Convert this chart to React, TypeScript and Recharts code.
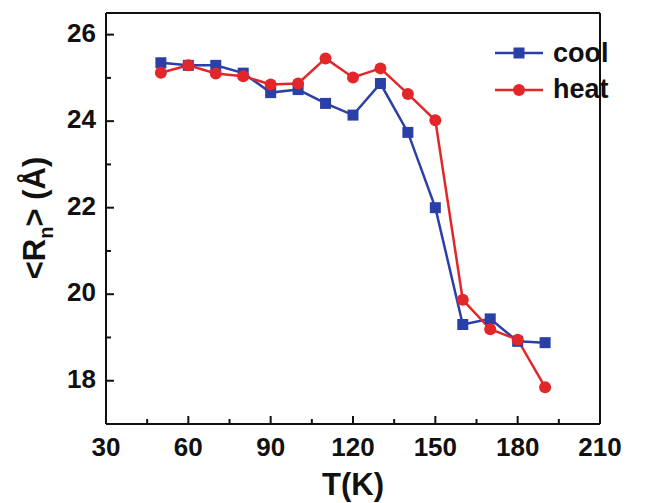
import { LineChart, Line, XAxis, YAxis, ReferenceLine, Legend } from "recharts"

// temperatures (K) and mean radius <R_n> (Å)
const temps = [50, 60, 70, 80, 90, 100, 110, 120, 130, 140, 150, 160, 170, 180, 190]
const cool = [25.35, 25.29, 25.29, 25.11, 24.66, 24.73, 24.41, 24.14, 24.87, 23.74, 22.0, 19.3, 19.43, 18.91, 18.88]
const heat = [25.12, 25.29, 25.1, 25.04, 24.85, 24.87, 25.45, 25.01, 25.22, 24.63, 24.02, 19.87, 19.19, 18.95, 17.85]

const xTicks = [30, 45, 60, 75, 90, 105, 120, 135, 150, 165, 180, 195, 210]
const yTicks = [17, 18, 19, 20, 21, 22, 23, 24, 25, 26]

const BLUE = "#2b40a6"
const RED = "#e2262a"
const FONT = "'Liberation Sans', Arial, sans-serif"

const data = temps.map((t, i) => ({ T: t, cool: cool[i], heat: heat[i] }))

const XTick = (props: any) => {
  const { x, y, payload } = props
  const major = payload.value % 30 === 0
  return (
    <g>
      <line x1={x} x2={x} y1={y} y2={y - (major ? 8 : 5)} stroke="#111" strokeWidth={2} />
      {major && (
        <text x={x} y={y + 32} textAnchor="middle" fontFamily={FONT} fontWeight="bold" fontSize={26} fill="#111">
          {payload.value}
        </text>
      )}
    </g>
  )
}

const YTick = (props: any) => {
  const { x, y, payload } = props
  const major = payload.value % 2 === 0
  return (
    <g>
      <line x1={x} x2={x + (major ? 8 : 5)} y1={y} y2={y} stroke="#111" strokeWidth={2} />
      {major && (
        <text x={x - 10} y={y + 7} textAnchor="end" fontFamily={FONT} fontWeight="bold" fontSize={26} fill="#111">
          {payload.value}
        </text>
      )}
    </g>
  )
}

const Square = (props: any) => {
  const { cx, cy } = props
  if (cx == null || cy == null) return <g />
  return <rect x={cx - 5.5} y={cy - 5.5} width={11} height={11} fill={BLUE} />
}

const Dot = (props: any) => {
  const { cx, cy } = props
  if (cx == null || cy == null) return <g />
  return <circle cx={cx} cy={cy} r={6} fill={RED} />
}

const LegendBox = () => (
  <svg width={150} height={80}>
    <line x1={5} x2={53} y1={23} y2={23} stroke={BLUE} strokeWidth={2.5} />
    <rect x={23.5} y={17.5} width={11} height={11} fill={BLUE} />
    <text x={63} y={32} fontFamily={FONT} fontWeight="bold" fontSize={27} fill="#111">cool</text>
    <line x1={5} x2={53} y1={60} y2={60} stroke={RED} strokeWidth={2.5} />
    <circle cx={29} cy={60} r={6} fill={RED} />
    <text x={63} y={68} fontFamily={FONT} fontWeight="bold" fontSize={27} fill="#111">heat</text>
  </svg>
)

export default function App() {
  return (
    <div style={{ position: "absolute", left: 0, top: 0, width: 646, height: 503, background: "#fff" }}>
      <LineChart width={646} height={503} data={data} margin={{ top: 13, right: 46, bottom: 0, left: 0 }}>
        <XAxis
          dataKey="T"
          type="number"
          domain={[30, 210]}
          ticks={xTicks}
          interval={0}
          height={79}
          tickSize={0}
          tickMargin={0}
          tickLine={false}
          tick={<XTick />}
          axisLine={{ stroke: "#111", strokeWidth: 2 }}
          label={{
            content: () => (
              <text x={353} y={495} textAnchor="middle" fontFamily={FONT} fontWeight="bold" fontSize={31} fill="#111">
                T(K)
              </text>
            ),
          }}
        />
        <YAxis
          type="number"
          domain={[17, 26.5]}
          ticks={yTicks}
          interval={0}
          width={106}
          tickSize={0}
          tickMargin={0}
          tickLine={false}
          tick={<YTick />}
          axisLine={{ stroke: "#111", strokeWidth: 2 }}
          label={{
            content: () => (
              <text
                x={45}
                y={218}
                transform="rotate(-90 45 218)"
                textAnchor="middle"
                fontFamily={FONT}
                fontWeight="bold"
                fontSize={31}
                fill="#111"
              >
                {"<R"}
                <tspan dy={8} fontSize={20}>n</tspan>
                <tspan dy={-8}>{"> (Å)"}</tspan>
              </text>
            ),
          }}
        />
        <ReferenceLine y={26.5} stroke="#111" strokeWidth={2} />
        <ReferenceLine x={210} stroke="#111" strokeWidth={2} />
        <Legend
          layout="horizontal"
          verticalAlign="middle"
          align="center"
          wrapperStyle={{ left: 490, top: 30, width: 150 }}
          content={() => <LegendBox />}
        />
        <Line
          dataKey="cool"
          stroke={BLUE}
          strokeWidth={2.5}
          dot={<Square />}
          activeDot={false}
          isAnimationActive={false}
        />
        <Line
          dataKey="heat"
          stroke={RED}
          strokeWidth={2.5}
          dot={<Dot />}
          activeDot={false}
          isAnimationActive={false}
        />
      </LineChart>
    </div>
  )
}
